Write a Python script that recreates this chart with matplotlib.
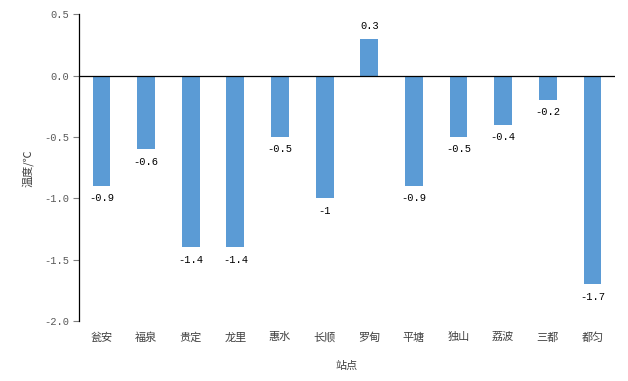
import matplotlib
matplotlib.use('Agg')
import matplotlib.pyplot as plt
import numpy as np

plt.rcParams['font.family'] = ['Noto Sans CJK SC', 'DejaVu Sans']
plt.rcParams['axes.unicode_minus'] = False

# 站点与温度距平
stations = ['瓮安', '福泉', '贵定', '龙里', '惠水', '长顺', '罗甸', '平塘', '独山', '荔波', '三都', '都匀']
temps = [-0.9, -0.6, -1.4, -1.4, -0.5, -1.0, 0.3, -0.9, -0.5, -0.4, -0.2, -1.7]
yticks = [0.5, 0.0, -0.5, -1.0, -1.5, -2.0]

num_font = ['Liberation Mono', 'DejaVu Sans Mono']

fig = plt.figure(figsize=(6.28, 3.81), dpi=100)
ax = fig.add_axes([0.126, 0.157, 0.853, 0.806])

x = np.arange(len(stations))
ax.bar(x, temps, width=0.4, color='#5B9BD5', zorder=2)

for xi, v in zip(x, temps):
    label = '%g' % v
    if v >= 0:
        ax.text(xi, v + 0.06, label, ha='center', va='bottom', fontsize=7.5,
                color='black', family=num_font)
    else:
        ax.text(xi, v - 0.06, label, ha='center', va='top', fontsize=7.5,
                color='black', family=num_font)

ax.axhline(0, color='black', lw=0.9, zorder=3)
ax.set_xlim(-0.5, len(stations) - 0.5)
ax.set_ylim(-2.0, 0.5)
ax.set_yticks(yticks)
ax.set_yticklabels(['%.1f' % t for t in yticks], family=num_font)

for s in ['top', 'right', 'bottom']:
    ax.spines[s].set_visible(False)
ax.spines['left'].set_color('black')
ax.spines['left'].set_linewidth(0.9)

ax.tick_params(axis='y', direction='out', length=4, color='#808080', labelsize=7.5, labelcolor='#595959', pad=3)
ax.set_xticks(x)
ax.set_xticklabels(stations)
ax.tick_params(axis='x', length=0, labelsize=8, labelcolor='#404040', pad=8)

ax.set_xlabel('站点', fontsize=8, color='#404040', labelpad=13)
ax.set_ylabel('温度/℃', fontsize=8, color='#404040', labelpad=8)

fig.savefig('out.png', dpi=100)
